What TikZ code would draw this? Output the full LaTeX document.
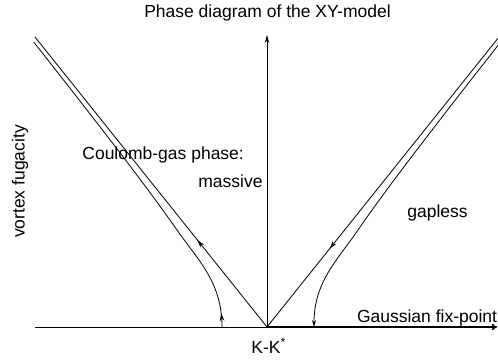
\documentclass[tikz,border=0pt]{standalone}
\usepackage{fontspec}
\setmainfont{Liberation Sans}
\usetikzlibrary{arrows.meta,decorations.markings}
\begin{document}
\begin{tikzpicture}[x=1pt,y=-1pt,line width=0.8pt,
  lbl/.style={font=\fontsize{17.5}{20}\selectfont,inner sep=0pt,anchor=base west},
  axistip/.style={-{Stealth[length=8pt,width=4.5pt]}},
  endtip/.style={-{Stealth[length=7pt,width=4pt]}},
  midarrow/.style={postaction={decorate},decoration={markings,
     mark=at position #1 with {\arrow{Stealth[length=8pt,width=4.5pt]}}}}]
\useasboundingbox (0,0) rectangle (498,362);
\clip (0,0) rectangle (498,362);
% coordinates
\coordinate (O) at (267,327);
\coordinate (L) at (35,327);
\coordinate (R) at (497,327);
\coordinate (T) at (267,35);
\coordinate (UL) at (35,37);
\coordinate (UR) at (499,37);
% axes
\draw (L) -- (O);
\draw[line width=1.5pt,-{To[length=5pt,width=6pt]}] (O) -- (R);
\draw[axistip] (O) -- (T);
% separatrices
\draw[midarrow=0.30] (O) -- (UL);
\draw[midarrow=0.73] (UR) -- (O);
% flow curves
\draw[midarrow=14pt] (222,327) .. controls (222,282) and (197.9,260) .. (177,230)
  -- plot[domain=9.7:28.5,samples=60,variable=\t] ({267-10*sqrt(31.46+\t*\t)/1.245},{327-10*\t});
\draw[endtip] plot[domain=28.6:9.7,samples=60,variable=\t] ({267+10*sqrt(34.28+\t*\t)/1.245},{327-10*\t})
  .. controls (337.4,260) and (314,282) .. (314,327);
% labels
\node[lbl,anchor=base] (title) at (267.5,17) {Phase diagram of the XY-model};
\node[lbl] (coul) at (82,159) {Coulomb-gas phase:};
\node[lbl] (mass) at (198,187) {massive};
\node[lbl] (gap) at (407,217) {gapless};
\node[lbl,anchor=base east] (gauss) at (497.5,322) {Gaussian fix-point};
\node[lbl] (kk) at (251,353) {K-K\textsuperscript{*}};
\node[lbl,anchor=base,rotate=90] (vf) at (24.5,181.5) {vortex fugacity};
\end{tikzpicture}
\end{document}
